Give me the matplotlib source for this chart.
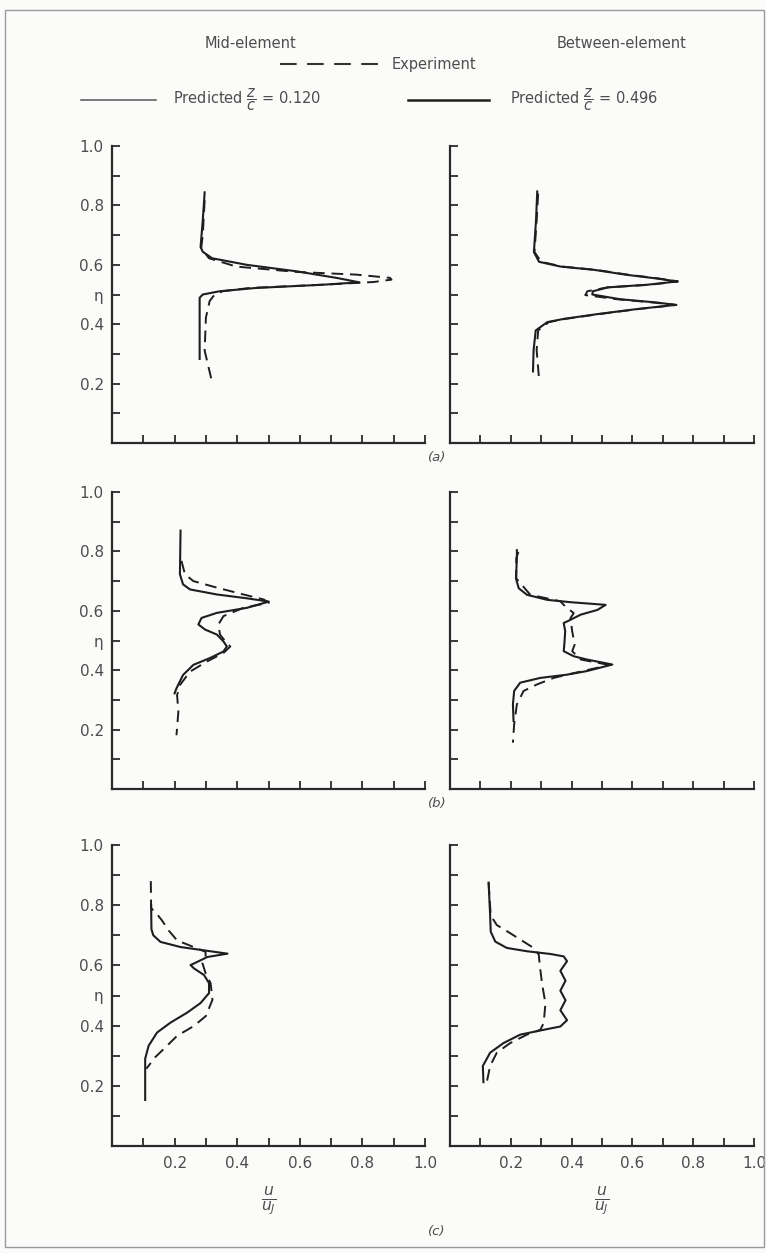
import matplotlib
matplotlib.use("Agg")
import matplotlib.pyplot as plt
from matplotlib.lines import Line2D
from matplotlib.patches import Rectangle

# ---------------- data (u/uJ vs eta) ----------------
# (a) mid-element
a_mid_pred_eta = [0.844, 0.75, 0.66, 0.644, 0.622, 0.60, 0.578, 0.556, 0.541, 0.533, 0.522, 0.511, 0.50, 0.489, 0.40, 0.283]
a_mid_pred_u   = [0.296, 0.29, 0.283, 0.29, 0.32, 0.43, 0.59, 0.717, 0.79, 0.675, 0.46, 0.344, 0.29, 0.28, 0.28, 0.28]
a_mid_exp_eta  = [0.817, 0.70, 0.656, 0.622, 0.594, 0.576, 0.567, 0.556, 0.55, 0.542, 0.533, 0.522, 0.511, 0.50, 0.478, 0.422, 0.311, 0.217]
a_mid_exp_u    = [0.296, 0.29, 0.285, 0.31, 0.397, 0.59, 0.78, 0.888, 0.893, 0.835, 0.675, 0.44, 0.354, 0.328, 0.312, 0.30, 0.296, 0.317]

# (a) between-element
a_btw_pred_eta = [0.847, 0.75, 0.643, 0.61, 0.594, 0.583, 0.566, 0.555, 0.544, 0.533, 0.524, 0.511, 0.50, 0.484, 0.473, 0.465, 0.451, 0.434, 0.418, 0.407, 0.379, 0.313, 0.241]
a_btw_pred_u   = [0.287, 0.283, 0.276, 0.293, 0.364, 0.474, 0.583, 0.671, 0.748, 0.65, 0.52, 0.47, 0.468, 0.56, 0.68, 0.742, 0.615, 0.485, 0.375, 0.32, 0.282, 0.275, 0.273]
a_btw_exp_eta  = [0.84, 0.75, 0.643, 0.61, 0.594, 0.583, 0.566, 0.555, 0.544, 0.533, 0.524, 0.511, 0.498, 0.484, 0.473, 0.465, 0.451, 0.434, 0.418, 0.407, 0.379, 0.313, 0.214]
a_btw_exp_u    = [0.29, 0.285, 0.278, 0.30, 0.37, 0.48, 0.59, 0.68, 0.75, 0.66, 0.518, 0.452, 0.445, 0.55, 0.67, 0.745, 0.62, 0.49, 0.38, 0.325, 0.29, 0.285, 0.293]

# (b) mid-element
b_mid_pred_eta = [0.87, 0.723, 0.689, 0.672, 0.655, 0.642, 0.631, 0.61, 0.593, 0.576, 0.554, 0.537, 0.52, 0.497, 0.48, 0.463, 0.441, 0.418, 0.384, 0.339, 0.322]
b_mid_pred_u   = [0.219, 0.217, 0.227, 0.249, 0.335, 0.431, 0.501, 0.431, 0.335, 0.286, 0.276, 0.297, 0.335, 0.356, 0.367, 0.356, 0.313, 0.26, 0.227, 0.206, 0.20]
b_mid_exp_eta  = [0.768, 0.723, 0.70, 0.678, 0.655, 0.638, 0.627, 0.61, 0.582, 0.554, 0.52, 0.491, 0.48, 0.458, 0.429, 0.395, 0.35, 0.316, 0.26, 0.181]
b_mid_exp_u    = [0.222, 0.233, 0.26, 0.335, 0.42, 0.485, 0.501, 0.42, 0.356, 0.34, 0.345, 0.367, 0.378, 0.356, 0.303, 0.249, 0.217, 0.208, 0.212, 0.206]

# (b) between-element
b_btw_pred_eta = [0.804, 0.777, 0.709, 0.676, 0.654, 0.637, 0.629, 0.62, 0.603, 0.587, 0.564, 0.559, 0.531, 0.486, 0.464, 0.447, 0.436, 0.419, 0.397, 0.385, 0.374, 0.358, 0.33, 0.285, 0.229]
b_btw_pred_u   = [0.22, 0.22, 0.217, 0.226, 0.253, 0.319, 0.396, 0.512, 0.485, 0.43, 0.385, 0.374, 0.379, 0.376, 0.374, 0.407, 0.45, 0.534, 0.45, 0.385, 0.297, 0.231, 0.211, 0.207, 0.209]
b_btw_exp_eta  = [0.798, 0.777, 0.709, 0.654, 0.632, 0.62, 0.592, 0.575, 0.531, 0.486, 0.464, 0.436, 0.419, 0.408, 0.385, 0.374, 0.352, 0.33, 0.285, 0.218, 0.156]
b_btw_exp_u    = [0.225, 0.218, 0.218, 0.264, 0.363, 0.374, 0.407, 0.396, 0.402, 0.41, 0.402, 0.43, 0.517, 0.484, 0.385, 0.341, 0.286, 0.242, 0.22, 0.211, 0.207]

# (c) mid-element
c_mid_pred_eta = [0.80, 0.72, 0.70, 0.678, 0.661, 0.65, 0.639, 0.628, 0.612, 0.601, 0.59, 0.568, 0.541, 0.508, 0.475, 0.443, 0.41, 0.377, 0.333, 0.29, 0.153]
c_mid_pred_u   = [0.125, 0.126, 0.132, 0.155, 0.219, 0.294, 0.369, 0.305, 0.273, 0.251, 0.262, 0.294, 0.31, 0.31, 0.283, 0.24, 0.187, 0.144, 0.117, 0.106, 0.106]
c_mid_exp_eta  = [0.88, 0.79, 0.775, 0.749, 0.716, 0.683, 0.656, 0.645, 0.628, 0.607, 0.574, 0.541, 0.486, 0.432, 0.399, 0.366, 0.322, 0.295, 0.257]
c_mid_exp_u    = [0.124, 0.125, 0.14, 0.16, 0.181, 0.208, 0.273, 0.299, 0.299, 0.289, 0.299, 0.315, 0.321, 0.30, 0.262, 0.208, 0.165, 0.138, 0.11]

# (c) between-element
c_btw_pred_eta = [0.875, 0.766, 0.712, 0.679, 0.658, 0.647, 0.638, 0.63, 0.614, 0.582, 0.549, 0.516, 0.484, 0.451, 0.418, 0.397, 0.386, 0.37, 0.342, 0.31, 0.266, 0.212]
c_btw_pred_u   = [0.127, 0.132, 0.134, 0.149, 0.187, 0.253, 0.33, 0.374, 0.385, 0.363, 0.38, 0.363, 0.38, 0.363, 0.385, 0.363, 0.308, 0.231, 0.176, 0.132, 0.108, 0.11]
c_btw_exp_eta  = [0.875, 0.766, 0.734, 0.707, 0.679, 0.658, 0.636, 0.603, 0.538, 0.473, 0.408, 0.386, 0.37, 0.342, 0.31, 0.266, 0.212]
c_btw_exp_u    = [0.127, 0.134, 0.154, 0.198, 0.242, 0.275, 0.292, 0.295, 0.303, 0.314, 0.308, 0.297, 0.253, 0.198, 0.154, 0.132, 0.121]

x_ticks = [0.1, 0.2, 0.3, 0.4, 0.5, 0.6, 0.7, 0.8, 0.9, 1.0]
x_tick_labels = ["", "0.2", "", "0.4", "", "0.6", "", "0.8", "", "1.0"]
y_ticks = [0.1, 0.2, 0.3, 0.4, 0.5, 0.6, 0.7, 0.8, 0.9, 1.0]
y_tick_labels = ["", "0.2", "", "0.4", "\u03b7", "0.6", "", "0.8", "", "1.0"]
panel_letters = ["(a)", "(b)", "(c)"]
column_titles = ["Mid-element", "Between-element"]
z_over_c = ["0.120", "0.496"]

# ---------------- layout ----------------
W, H = 766, 1253
fig = plt.figure(figsize=(W / 100, H / 100), dpi=100)
fig.patch.set_facecolor("#fbfbfa")
plt.rcParams["font.family"] = ["DejaVu Sans"]
TXT = "#4d4d4d"
LN = "#1e1e1e"
FS = 11
HFS = 10.5


def rect(x0, ytop, x1, ybot):
    return [x0 / W, 1 - ybot / H, (x1 - x0) / W, (ybot - ytop) / H]


rows = [(146, 443), (492, 789), (845, 1146)]
cols = [(112, 425), (450, 754)]
panels = [
    [(a_mid_pred_u, a_mid_pred_eta, a_mid_exp_u, a_mid_exp_eta),
     (a_btw_pred_u, a_btw_pred_eta, a_btw_exp_u, a_btw_exp_eta)],
    [(b_mid_pred_u, b_mid_pred_eta, b_mid_exp_u, b_mid_exp_eta),
     (b_btw_pred_u, b_btw_pred_eta, b_btw_exp_u, b_btw_exp_eta)],
    [(c_mid_pred_u, c_mid_pred_eta, c_mid_exp_u, c_mid_exp_eta),
     (c_btw_pred_u, c_btw_pred_eta, c_btw_exp_u, c_btw_exp_eta)],
]

for r, (yt, yb) in enumerate(rows):
    for c, (x0, x1) in enumerate(cols):
        ax = fig.add_axes(rect(x0, yt, x1, yb))
        ax.set_facecolor("none")
        pu, pe, eu, ee = panels[r][c]
        ax.plot(pu, pe, color=LN, lw=1.5, solid_joinstyle="round")
        ax.plot(eu, ee, color=LN, lw=1.4, linestyle=(0, (6, 3.5)))
        ax.set_xlim(0, 1.0)
        ax.set_ylim(0, 1.0)
        for s in ["top", "right"]:
            ax.spines[s].set_visible(False)
        for s in ["left", "bottom"]:
            ax.spines[s].set_linewidth(1.6)
            ax.spines[s].set_color("#2a2a2a")
        ax.set_xticks(x_ticks)
        ax.set_yticks(y_ticks)
        ax.tick_params(direction="in", length=6, width=1.3, color="#2a2a2a",
                       labelcolor=TXT, labelsize=FS, pad=6)
        if r == 2:
            ax.set_xticklabels(x_tick_labels)
            ax.tick_params(axis="x", pad=7)
        else:
            ax.set_xticklabels([])
        if c == 0:
            ax.set_yticklabels(y_tick_labels)
        else:
            ax.set_yticklabels([])
        if r == 2:
            ax.text(0.5, -0.185, r"$\frac{u}{u_J}$", transform=ax.transAxes,
                    ha="center", va="center", fontsize=16, color=TXT)

# panel letters
letter_y = [458, 804, 1232]
for lbl, y in zip(panel_letters, letter_y):
    fig.text(437 / W, 1 - y / H, lbl, ha="center", va="center",
             fontsize=9.5, style="italic", color=TXT)

# header
fig.text(250 / W, 1 - 43 / H, column_titles[0], ha="center", va="center", fontsize=HFS, color=TXT)
fig.text(622 / W, 1 - 43 / H, column_titles[1], ha="center", va="center", fontsize=HFS, color=TXT)
fig.add_artist(Line2D([280 / W, 384 / W], [1 - 64 / H, 1 - 64 / H], color="#333", lw=1.5,
                      linestyle=(0, (8, 5))))
fig.text(392 / W, 1 - 64 / H, "Experiment", ha="left", va="center", fontsize=HFS, color=TXT)
fig.add_artist(Line2D([81 / W, 156 / W], [1 - 100 / H, 1 - 100 / H], color="#555", lw=1.1))
fig.text(173 / W, 1 - 100 / H, r"Predicted $\dfrac{z}{c}$ = " + z_over_c[0], ha="left",
         va="center", fontsize=HFS, color=TXT)
fig.add_artist(Line2D([408 / W, 489 / W], [1 - 100 / H, 1 - 100 / H], color=LN, lw=1.8))
fig.text(510 / W, 1 - 100 / H, r"Predicted $\dfrac{z}{c}$ = " + z_over_c[1], ha="left",
         va="center", fontsize=HFS, color=TXT)

# page border of the scanned figure
fig.add_artist(Rectangle((5 / W, 6 / H), 759 / W, 1 - 16 / H, transform=fig.transFigure,
                         fill=False, edgecolor="#9a9a9a", lw=1.0))

fig.savefig("out.png", dpi=100, facecolor=fig.get_facecolor())
